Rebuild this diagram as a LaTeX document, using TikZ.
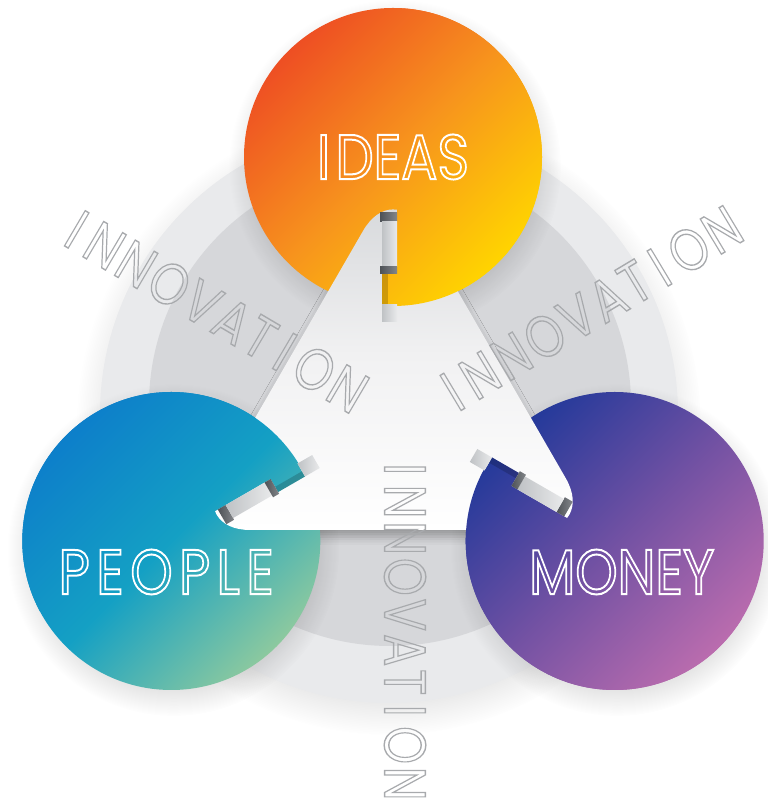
\documentclass[tikz,border=0pt]{standalone}
\usepackage{fontspec}
\usepackage{tikz}
\usetikzlibrary{calc,shadows.blur,fadings}
\newfontfamily\roundfont{Poppins}
\newfontfamily\spacedfont{Poppins}[LetterSpace=6]

\definecolor{ringouter}{HTML}{E9EAEC}
\definecolor{ringinner}{HTML}{D6D7DA}
\definecolor{ideasA}{HTML}{EE4F23}
\definecolor{ideasB}{HTML}{F7941D}
\definecolor{ideasC}{HTML}{FFD400}
\definecolor{peopleA}{HTML}{0D7FCA}
\definecolor{peopleB}{HTML}{14A0C4}
\definecolor{peopleC}{HTML}{8CC99F}
\definecolor{moneyA}{HTML}{23399A}
\definecolor{moneyB}{HTML}{7151A3}
\definecolor{moneyC}{HTML}{BA6CAE}
\definecolor{triTop}{HTML}{D3D5D8}
\definecolor{triMid}{HTML}{F1F1F2}
\definecolor{slotgray}{HTML}{BFC2C5}
\definecolor{notchdark}{HTML}{4E5257}
\definecolor{innogray}{HTML}{A9AAAD}

% soft round shadow: opaque core, fading rim
\pgfdeclareradialshading{softrimshade}{\pgfpointorigin}{color(0bp)=(pgftransparent!0); color(20bp)=(pgftransparent!0); color(25bp)=(pgftransparent!100)}
\pgfdeclarefading{softrim}{\pgfuseshading{softrimshade}}

% stroke the glyphs instead of filling them (text render mode 1)
\newcommand\hollowtext[3]{\special{pdf:literal direct #2 RG 1 Tr #1 w}#3\special{pdf:literal direct 0 Tr}}

\tikzset{
  ideasfill/.style={top color=ideasA, bottom color=ideasC, middle color=ideasB, shading angle=45},
  peoplefill/.style={top color=peopleA, bottom color=peopleC, middle color=peopleB, shading angle=45},
  moneyfill/.style={top color=moneyA, bottom color=moneyC, middle color=moneyB, shading angle=45},
  hub/.style={circle, inner sep=0pt, minimum size=89.4mm},
  softshadow/.style={fill=black, opacity=#1, path fading=softrim},
  trianglefill/.style={top color=triTop, bottom color=white, middle color=triMid},
  notch/.style={left color=notchdark, right color=notchdark!70},
  slotwall/.style={left color=slotgray, right color=slotgray!35},
  bigword/.style={text=white, font=\roundfont\fontsize{54}{54}\selectfont, inner sep=0pt, xscale=.85},
  innoword/.style={text=innogray, font=\spacedfont\fontsize{50}{50}\selectfont, inner sep=0pt},
}

\begin{document}
\begin{tikzpicture}[x=0.3mm, y=0.3mm]
  \useasboundingbox (0,0) rectangle (767,807);
  \coordinate (C) at (393,394);

  % grey base discs
  \path[softshadow=.15] (389,384) circle (312);
  \fill[ringouter] (389,393) circle (289);
  \fill[ringinner] (390,402) circle (241);

  % shadow of the triangle, kept under the circles
  \path[rounded corners=18mm,
    blur shadow={shadow xshift=0mm, shadow yshift=-2mm, shadow blur radius=2.5mm, shadow opacity=30}]
    ($(C)+(270:117)$) -- ($(C)+(330:234)$) -- ($(C)+(90:234)$) -- ($(C)+(210:234)$) -- cycle;

  % the three coloured circles
  \foreach \a/\f/\n in {0/ideasfill/ideas, 120/peoplefill/people, 240/moneyfill/money}{
    \path[softshadow=.13] ($(C)+(90+\a:256)+(2,-9)$) circle (166);
    \node[hub, \f] (\n) at ($(C)+(90+\a:256)$) {};
  }

  % rounded triangle in the middle
  \shade[trianglefill, rounded corners=18mm]
    ($(C)+(270:117)$) -- ($(C)+(330:234)$) -- ($(C)+(90:234)$) -- ($(C)+(210:234)$) -- cycle;

  % each tip sits in a slot: the circle covers one side of it
  \foreach \a/\f/\n in {0/ideasfill/ideas, 120/peoplefill/people, 240/moneyfill/money}{
    \begin{scope}[shift={(C)}, rotate=\a]
      \begin{scope}
        \clip (4,-40) rectangle (170,420) (-11,108) rectangle (4,139);
        \begin{scope}[rotate=-\a]
          \shade[\f] (\n.center) circle (149);
        \end{scope}
      \end{scope}
      \fill[black, opacity=.18] (-11,108) rectangle (-5,139);
      \shade[notch] (-13,191) rectangle (4,200);
      \shade[slotwall] (-11,146) rectangle (4,191);
      \shade[notch] (-13,139) rectangle (4,146);
      \shade[slotwall] (-11,91) rectangle (4,108);
    \end{scope}
  }

  % words
  \node[bigword] (ideaslabel) at (ideas) {\hollowtext{1.7}{1 1 1}{I\kern.1em DEAS}};
  \node[bigword] (peoplelabel) at ($(people)+(-5,-31)$)
    {\addfontfeature{LetterSpace=12}\hollowtext{1.7}{1 1 1}{PEOPLE}};
  \node[bigword] (moneylabel) at ($(money)+(7,-31)$) {\hollowtext{1.7}{1 1 1}{MONEY}};

  \node[innoword, rotate=-30.5, xscale=.82] (innoleft) at (217,495)
    {\hollowtext{1.2}{.66 .665 .68}{I\kern.2em NNOVAT\kern.2em I\kern.2em ON}};
  \node[innoword, rotate=31, xscale=.82] (innoright) at (592,499)
    {\hollowtext{1.2}{.66 .665 .68}{I\kern.2em NNOVAT\kern.2em I\kern.2em ON}};
  \node[innoword, rotate=-90, xscale=.82] (innobottom) at (405,175)
    {\hollowtext{1.2}{.66 .665 .68}{I\kern.2em NNOVAT\kern.2em I\kern.2em ON}};
\end{tikzpicture}
\end{document}
